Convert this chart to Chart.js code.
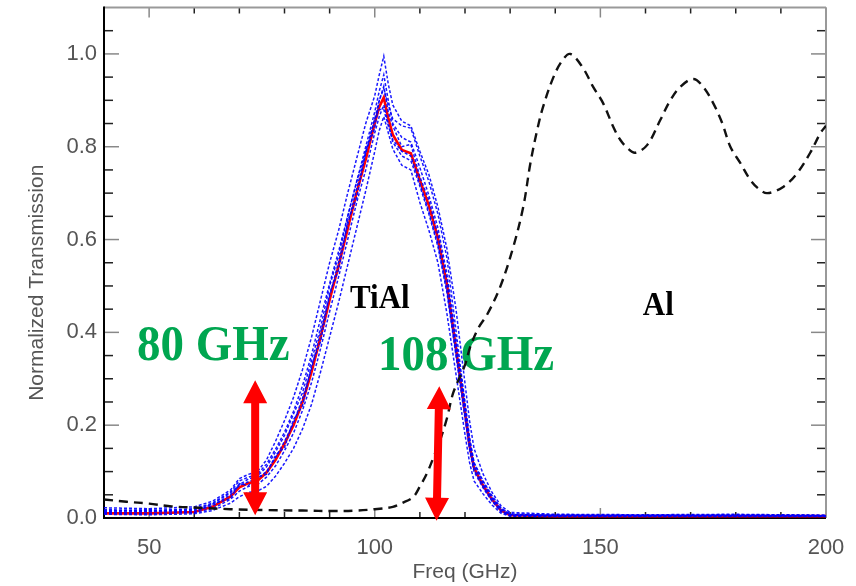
<!DOCTYPE html>
<html>
<head>
<meta charset="utf-8">
<script src="https://cdn.jsdelivr.net/npm/chart.js@4.4.1/dist/chart.umd.min.js"></script>
<style>
  html, body { margin: 0; padding: 0; background: #fff; }
  #wrap { width: 856px; height: 586px; position: relative; }
</style>
</head>
<body>
<div id="wrap"><canvas id="grafik"></canvas></div>
<script>
// ---- Al film (black dashed) ----
const freqAl = [40, 45, 50, 55, 61, 68, 76, 84, 91, 96, 100, 104, 106, 108.5, 110, 111.6, 113, 114.5, 116, 117.4,
  120, 121.2, 123, 125, 127.8, 130.7, 132.9, 134.5, 136, 137.3, 139.6, 141.5, 143.3, 146, 148.4, 150.6, 152.9,
  154.4, 156, 157.7, 160.4, 163.3, 165.5, 167.7, 170.6, 172.8, 175, 177, 178.8, 181, 183.2, 185, 187, 190.6,
  193.6, 196.5, 198.8, 200];
const transAl = [0.040, 0.035, 0.031, 0.025, 0.022, 0.019, 0.017, 0.016, 0.015, 0.016, 0.019, 0.024, 0.032, 0.045,
  0.068, 0.097, 0.13, 0.168, 0.215, 0.27, 0.33, 0.37, 0.41, 0.44, 0.498, 0.584, 0.67, 0.765, 0.836, 0.886, 0.95,
  0.985, 1.0, 0.972, 0.929, 0.894, 0.842, 0.815, 0.797, 0.787, 0.804, 0.858, 0.90, 0.929, 0.946, 0.929, 0.894,
  0.851, 0.80, 0.765, 0.729, 0.71, 0.70, 0.714, 0.743, 0.787, 0.83, 0.845];

// ---- TiAl pixels (blue dashed) and their mean (red) ----
const freqTiAl = [40, 50, 60, 64, 68, 70, 72, 74, 76, 78, 80, 82, 84, 86, 88, 90, 92, 94, 96, 98, 100, 101, 102,
  103, 104, 106, 108, 110, 112, 114, 116, 118, 119, 120, 121, 122, 124, 126, 128, 130, 140, 160, 180, 200];
const meanTiAl = [0.01, 0.01, 0.013, 0.024, 0.046, 0.066, 0.075, 0.08, 0.098, 0.125, 0.16, 0.2, 0.25, 0.315,
  0.39, 0.47, 0.544, 0.623, 0.702, 0.772, 0.851, 0.886, 0.906, 0.861, 0.826, 0.793, 0.786, 0.728, 0.673, 0.603,
  0.504, 0.365, 0.296, 0.227, 0.157, 0.108, 0.07, 0.04, 0.016, 0.006, 0.004, 0.004, 0.004, 0.004];
const pixelTiAl = [
  [0.022, 0.02, 0.024, 0.036, 0.06, 0.085, 0.094, 0.1, 0.125, 0.165, 0.21, 0.26, 0.32, 0.39, 0.47, 0.55, 0.62,
   0.7, 0.775, 0.85, 0.91, 0.955, 0.995, 0.935, 0.89, 0.855, 0.845, 0.79, 0.74, 0.67, 0.58, 0.45, 0.37, 0.29,
   0.21, 0.15, 0.095, 0.055, 0.026, 0.012, 0.008, 0.007, 0.008, 0.006],
  [0.008, 0.007, 0.009, 0.016, 0.032, 0.046, 0.055, 0.058, 0.068, 0.09, 0.118, 0.15, 0.192, 0.245, 0.315, 0.39,
   0.465, 0.545, 0.625, 0.705, 0.79, 0.835, 0.865, 0.83, 0.795, 0.76, 0.75, 0.68, 0.62, 0.55, 0.44, 0.31, 0.245,
   0.18, 0.12, 0.08, 0.052, 0.028, 0.01, 0.004, 0.003, 0.003, 0.004, 0.003],
  [0.016, 0.015, 0.018, 0.03, 0.054, 0.072, 0.084, 0.09, 0.11, 0.142, 0.178, 0.224, 0.27, 0.34, 0.41, 0.5, 0.565,
   0.65, 0.725, 0.8, 0.875, 0.92, 0.955, 0.9, 0.85, 0.82, 0.81, 0.755, 0.695, 0.625, 0.525, 0.385, 0.315, 0.245,
   0.17, 0.118, 0.078, 0.045, 0.02, 0.008, 0.006, 0.005, 0.006, 0.005],
  [0.01, 0.01, 0.012, 0.02, 0.04, 0.058, 0.068, 0.072, 0.088, 0.112, 0.145, 0.183, 0.232, 0.292, 0.365, 0.445,
   0.52, 0.6, 0.68, 0.75, 0.83, 0.865, 0.89, 0.85, 0.81, 0.78, 0.77, 0.715, 0.655, 0.585, 0.485, 0.35, 0.282,
   0.215, 0.148, 0.1, 0.065, 0.036, 0.013, 0.005, 0.004, 0.004, 0.003, 0.004],
  [0.014, 0.018, 0.012, 0.03, 0.042, 0.074, 0.07, 0.088, 0.094, 0.135, 0.152, 0.212, 0.242, 0.33, 0.38, 0.485,
   0.535, 0.64, 0.69, 0.79, 0.84, 0.9, 0.93, 0.875, 0.845, 0.8, 0.805, 0.735, 0.685, 0.61, 0.515, 0.37, 0.305,
   0.232, 0.162, 0.112, 0.072, 0.042, 0.018, 0.007, 0.005, 0.006, 0.005, 0.005],
  [0.012, 0.014, 0.016, 0.026, 0.05, 0.07, 0.078, 0.085, 0.1, 0.13, 0.165, 0.205, 0.258, 0.322, 0.4, 0.478,
   0.552, 0.632, 0.71, 0.785, 0.86, 0.9, 0.925, 0.89, 0.86, 0.845, 0.84, 0.78, 0.725, 0.655, 0.56, 0.405, 0.325,
   0.25, 0.175, 0.12, 0.08, 0.048, 0.021, 0.009, 0.007, 0.006, 0.007, 0.006],
  [0.018, 0.016, 0.02, 0.032, 0.056, 0.08, 0.088, 0.094, 0.116, 0.148, 0.185, 0.23, 0.285, 0.352, 0.43, 0.505,
   0.575, 0.65, 0.725, 0.79, 0.86, 0.88, 0.88, 0.845, 0.815, 0.79, 0.78, 0.72, 0.66, 0.59, 0.49, 0.355, 0.29,
   0.222, 0.152, 0.104, 0.068, 0.038, 0.015, 0.006, 0.004, 0.004, 0.004, 0.004]
];

// ---- axis ticks ----
const xMajorTicks = [50, 100, 150, 200];
const xMinorTicks = [60, 70, 80, 90, 110, 120, 130, 140, 160, 170, 180, 190];
const yMajorTicks = [0, 0.2, 0.4, 0.6, 0.8, 1.0];
const yMinorTicks = [0.05, 0.1, 0.15, 0.25, 0.3, 0.35, 0.45, 0.5, 0.55, 0.65, 0.7, 0.75, 0.85, 0.9, 0.95, 1.05];

// ---- annotations (in data units) ----
const labelTeks = [
  { text: "80 GHz", x: 47.3, y: 0.340, font: 'bold 47px "Liberation Serif"', color: "#00a650" },
  { text: "108 GHz", x: 100.7, y: 0.319, font: 'bold 47px "Liberation Serif"', color: "#00a650" },
  { text: "TiAl", x: 94.5, y: 0.453, font: 'bold 31px "Liberation Serif"', color: "#000" },
  { text: "Al", x: 159.4, y: 0.437, font: 'bold 31px "Liberation Serif"', color: "#000" }
];
const panahMerah = [
  { x1: 73.5, y1: 0.297, x2: 73.5, y2: 0.006 },
  { x1: 114.3, y1: 0.284, x2: 113.7, y2: -0.006 }
];
const judulY = "Normalized Transmission";

const toXY = (xs, ys) => xs.map((v, i) => ({ x: v, y: ys[i] }));

function garis(ctx, x1, y1, x2, y2) {
  ctx.beginPath(); ctx.moveTo(x1, y1); ctx.lineTo(x2, y2); ctx.stroke();
}

function gambarPanah(ctx, x1, y1, x2, y2) {
  const dx = x2 - x1, dy = y2 - y1, L = Math.hypot(dx, dy);
  const ux = dx / L, uy = dy / L, nx = -uy, ny = ux;
  const hl = 23, hw = 12, sw = 4;
  const pts = [[0, 0], [hl, hw], [hl, sw], [L - hl, sw], [L - hl, hw], [L, 0],
               [L - hl, -hw], [L - hl, -sw], [hl, -sw], [hl, -hw]];
  ctx.beginPath();
  pts.forEach(([s, t], i) => {
    const px = x1 + ux * s + nx * t, py = y1 + uy * s + ny * t;
    if (i) ctx.lineTo(px, py); else ctx.moveTo(px, py);
  });
  ctx.closePath();
  ctx.fill();
}

// frame with inward ticks on all four sides + text labels
const bingkai = {
  id: "bingkai",
  beforeDatasetsDraw(chart) {
    const { ctx, chartArea: a, scales: { x, y } } = chart;
    ctx.save();
    ctx.lineWidth = 1.5;
    ctx.strokeStyle = "#888";
    yMajorTicks.forEach(v => {
      const py = y.getPixelForValue(v);
      garis(ctx, a.left, py, a.left + 15, py);
      garis(ctx, a.right, py, a.right - 15, py);
    });
    xMajorTicks.forEach(v => {
      const px = x.getPixelForValue(v);
      garis(ctx, px, a.bottom, px, a.bottom - 10);
      garis(ctx, px, a.top, px, a.top + 10);
    });
    ctx.strokeStyle = "#222";
    yMinorTicks.forEach(v => {
      const py = y.getPixelForValue(v);
      garis(ctx, a.left, py, a.left + 9, py);
      garis(ctx, a.right, py, a.right - 9, py);
    });
    xMinorTicks.forEach(v => {
      const px = x.getPixelForValue(v);
      garis(ctx, px, a.bottom, px, a.bottom - 6);
      garis(ctx, px, a.top, px, a.top + 6);
    });
    ctx.lineWidth = 2;
    ctx.strokeStyle = "#999";
    garis(ctx, a.left, a.top, a.right, a.top);
    garis(ctx, a.right, a.top, a.right, a.bottom);
    ctx.strokeStyle = "#000";
    garis(ctx, a.left, a.top - 1, a.left, a.bottom + 1);
    garis(ctx, a.left, a.bottom, a.right, a.bottom);

    // y-axis title (sits a bit below the axis middle, as in the original)
    ctx.save();
    ctx.translate(37, (a.top + a.bottom) / 2 + 20);
    ctx.rotate(-Math.PI / 2);
    ctx.font = '21px "Liberation Sans", Arial, sans-serif';
    ctx.fillStyle = "#555";
    ctx.textAlign = "center";
    ctx.textBaseline = "middle";
    ctx.fillText(judulY, 0, 0);
    ctx.restore();

    labelTeks.forEach(l => {
      ctx.save();
      ctx.translate(x.getPixelForValue(l.x), y.getPixelForValue(l.y));
      ctx.scale(1, 1.08);
      ctx.font = l.font;
      ctx.fillStyle = l.color;
      ctx.textAlign = "left";
      ctx.textBaseline = "alphabetic";
      ctx.fillText(l.text, 0, 0);
      ctx.restore();
    });
    ctx.restore();
  },
  afterDatasetsDraw(chart) {
    const { ctx, scales: { x, y } } = chart;
    ctx.save();
    ctx.fillStyle = "#ff0000";
    panahMerah.forEach(p => {
      gambarPanah(ctx, x.getPixelForValue(p.x1), y.getPixelForValue(p.y1),
                  x.getPixelForValue(p.x2), y.getPixelForValue(p.y2));
    });
    ctx.restore();
  }
};

const datasets = [];
datasets.push({
  label: "Al",
  data: toXY(freqAl, transAl),
  borderColor: "#111",
  borderWidth: 2.4,
  borderDash: [9, 6],
  tension: 0.35,
  pointRadius: 0
});
pixelTiAl.forEach((vals, i) => {
  datasets.push({
    label: "TiAl " + (i + 1),
    data: toXY(freqTiAl, vals),
    borderColor: "rgba(0,0,255,0.9)",
    borderWidth: 1.5,
    borderDash: [3, 2],
    tension: 0,
    pointRadius: 0
  });
});
datasets.push({
  label: "TiAl mean",
  data: toXY(freqTiAl, meanTiAl),
  borderColor: "#ff0000",
  borderWidth: 2.6,
  tension: 0,
  pointRadius: 0
});

const tickFont = { family: '"Liberation Sans", Arial, sans-serif', size: 22 };
const titleFont = { family: '"Liberation Sans", Arial, sans-serif', size: 21 };

new Chart(document.getElementById("grafik").getContext("2d"), {
  type: "line",
  data: { datasets },
  options: {
    responsive: true,
    maintainAspectRatio: false,
    animation: false,
    layout: { padding: { top: 7.5, right: 30, left: 0, bottom: 0 } },
    plugins: { legend: { display: false }, tooltip: { enabled: false } },
    scales: {
      x: {
        type: "linear",
        min: 40,
        max: 200,
        grid: { display: false, drawTicks: false },
        border: { display: false },
        ticks: {
          stepSize: 50,
          includeBounds: false,
          padding: 17,
          color: "#555",
          font: tickFont,
          maxRotation: 0,
          callback: v => String(v)
        },
        title: { display: true, text: "Freq (GHz)", color: "#555", font: titleFont, padding: { top: 0, bottom: 1 } },
        afterFit: s => { s.height = 68; s.paddingLeft = 0; s.paddingRight = 0; }
      },
      y: {
        min: 0,
        max: 1.1,
        grid: { display: false, drawTicks: false },
        border: { display: false },
        ticks: {
          stepSize: 0.2,
          includeBounds: false,
          padding: 7,
          color: "#555",
          font: tickFont,
          callback: v => v.toFixed(1)
        },
        title: { display: false },
        afterFit: s => { s.width = 104; s.paddingTop = 0; s.paddingBottom = 0; }
      }
    }
  },
  plugins: [bingkai]
});
</script>
</body>
</html>
